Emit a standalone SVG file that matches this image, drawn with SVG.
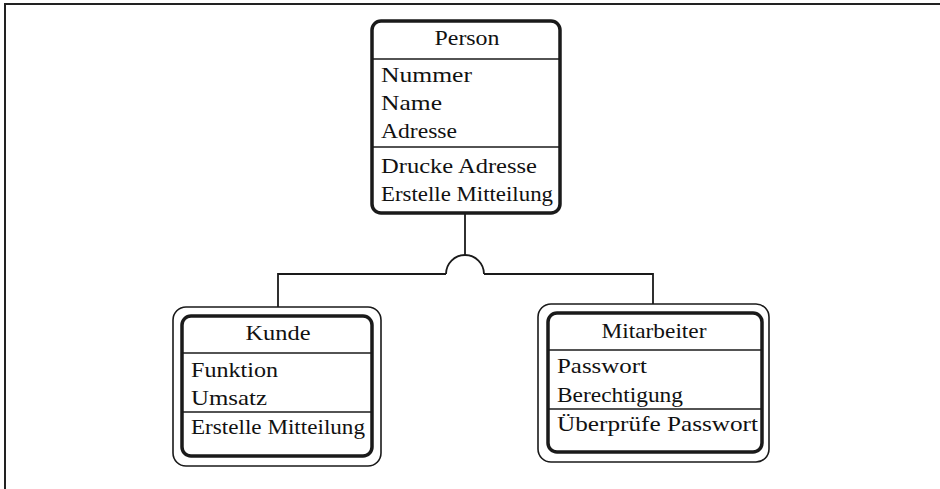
<svg xmlns="http://www.w3.org/2000/svg" width="940" height="489" viewBox="0 0 940 489">
<style>
.bg{fill:#fff}
.frame{fill:none;stroke:#222;stroke-width:2}
.box{fill:#fff;stroke:#1a1a1a;stroke-width:3.5}
.outer{fill:#fff;stroke:#1a1a1a;stroke-width:1.6}
.div{stroke:#1a1a1a;stroke-width:1.6}
.conn{fill:none;stroke:#1a1a1a;stroke-width:1.8}
text{font-family:"Liberation Serif","Times New Roman",serif;font-size:21px;fill:#111}
.t{text-anchor:middle}
</style>
<rect class="bg" x="0" y="0" width="940" height="489"/>
<path class="frame" d="M5,489 V4 H940"/>
<g id="connectors">
<path class="conn" d="M465,213 V255"/>
<path class="conn" d="M446,274 A19,19 0 0 1 484,274"/>
<path class="conn" d="M446,274 H278 V316"/>
<path class="conn" d="M484,274 H653 V313"/>
</g>
<g id="person">
<rect class="box" x="372" y="21" width="188" height="192" rx="9"/>
<line class="div" x1="372" y1="59" x2="560" y2="59"/>
<line class="div" x1="372" y1="147" x2="560" y2="147"/>
<text class="t" x="467" y="45" textLength="65" lengthAdjust="spacingAndGlyphs">Person</text>
<text x="381" y="82" textLength="91" lengthAdjust="spacingAndGlyphs">Nummer</text>
<text x="381" y="110" textLength="61" lengthAdjust="spacingAndGlyphs">Name</text>
<text x="381" y="138" textLength="76" lengthAdjust="spacingAndGlyphs">Adresse</text>
<text x="381" y="173" textLength="156" lengthAdjust="spacingAndGlyphs">Drucke Adresse</text>
<text x="381" y="201" textLength="172" lengthAdjust="spacingAndGlyphs">Erstelle Mitteilung</text>
</g>
<g id="kunde">
<rect class="outer" x="173" y="307" width="208" height="159" rx="13"/>
<rect class="box" x="182" y="316" width="190" height="140" rx="9"/>
<line class="div" x1="182" y1="353" x2="372" y2="353"/>
<line class="div" x1="182" y1="412" x2="372" y2="412"/>
<text class="t" x="278" y="340" textLength="65" lengthAdjust="spacingAndGlyphs">Kunde</text>
<text x="191" y="377" textLength="87" lengthAdjust="spacingAndGlyphs">Funktion</text>
<text x="191" y="405" textLength="76" lengthAdjust="spacingAndGlyphs">Umsatz</text>
<text x="191" y="434" textLength="174" lengthAdjust="spacingAndGlyphs">Erstelle Mitteilung</text>
</g>
<g id="mitarbeiter">
<rect class="outer" x="538" y="304" width="231" height="158" rx="13"/>
<rect class="box" x="548" y="313" width="214" height="139" rx="9"/>
<line class="div" x1="548" y1="350" x2="762" y2="350"/>
<line class="div" x1="548" y1="409" x2="762" y2="409"/>
<text class="t" x="654" y="338" textLength="105" lengthAdjust="spacingAndGlyphs">Mitarbeiter</text>
<text x="557" y="373" textLength="90" lengthAdjust="spacingAndGlyphs">Passwort</text>
<text x="557" y="402" textLength="126" lengthAdjust="spacingAndGlyphs">Berechtigung</text>
<text x="557" y="431" textLength="201" lengthAdjust="spacingAndGlyphs">Überprüfe Passwort</text>
</g>
</svg>
